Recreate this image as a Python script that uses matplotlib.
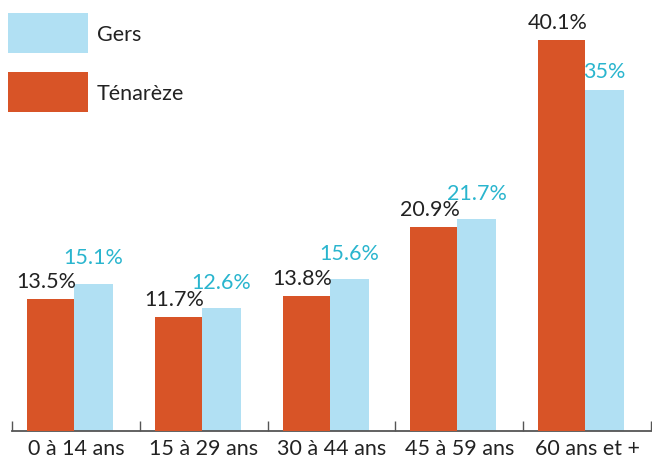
import matplotlib
matplotlib.use("Agg")
import matplotlib.pyplot as plt
from matplotlib.patches import Rectangle
import numpy as np

categories = ["0 à 14 ans", "15 à 29 ans", "30 à 44 ans", "45 à 59 ans", "60 ans et +"]
tenareze = [13.5, 11.7, 13.8, 20.9, 40.1]
gers = [15.1, 12.6, 15.6, 21.7, 35.0]
tenareze_labels = ["13.5%", "11.7%", "13.8%", "20.9%", "40.1%"]
gers_labels = ["15.1%", "12.6%", "15.6%", "21.7%", "35%"]
legend_names = ["Gers", "Ténarèze"]

ORANGE = "#D85427"
BLUE = "#B1E0F3"
BLUE_TXT = "#2AB5CE"
DARK = "#222222"
FONT = ["Lato", "DejaVu Sans"]

plt.rcParams['font.family'] = FONT

W, H = 652, 461
fig = plt.figure(figsize=(W / 100, H / 100), dpi=100)
ax = fig.add_axes([12 / W, 30 / H, 639 / W, 431 / H])

x = np.arange(len(categories)) + 0.5
ax.bar(x - 0.383, tenareze, width=0.368, align='edge', color=ORANGE, zorder=3)
ax.bar(x - 0.015, gers, width=0.305, align='edge', color=BLUE, zorder=2)

ax.set_xlim(0, 5)
ax.set_ylim(0, 44.2)

fs = 15.5
for xi, v, lab, g in zip(x, tenareze, tenareze_labels, gers):
    ax.annotate(lab, (xi - 0.2, v), xytext=(-3, 5), textcoords='offset points',
                ha='center', va='bottom', fontsize=fs, color=DARK, zorder=5)
for xi, v, lab, t in zip(x, gers, gers_labels, tenareze):
    lift = 11 if abs(v - t) < 2 else 5.5
    ax.annotate(lab, (xi + 0.137, v), xytext=(0, lift), textcoords='offset points',
                ha='center', va='bottom', fontsize=fs, color=BLUE_TXT, zorder=5)

for s in ['top', 'right', 'left']:
    ax.spines[s].set_visible(False)
ax.spines['bottom'].set_color('#555555')
ax.spines['bottom'].set_linewidth(1.3)
ax.set_yticks([])
ax.set_xticks(x)
ax.set_xticklabels(categories, fontsize=fs, color=DARK)
ax.tick_params(axis='x', which='major', length=0, pad=6)
ax.set_xticks(np.arange(0, 6), minor=True)
ax.tick_params(axis='x', which='minor', direction='in', length=7, width=1, color='#555555')

# legend drawn in figure pixel space
for i, (name, col) in enumerate(zip(legend_names, [BLUE, ORANGE])):
    top = 13 + i * 59
    fig.patches.append(Rectangle((8 / W, 1 - (top + 40) / H), 80 / W, 40 / H,
                                 transform=fig.transFigure, facecolor=col,
                                 edgecolor='none'))
    fig.text(97 / W, 1 - (top + 20) / H, name, fontsize=fs, color=DARK,
             ha='left', va='center_baseline')

fig.savefig("out.png", dpi=100)
